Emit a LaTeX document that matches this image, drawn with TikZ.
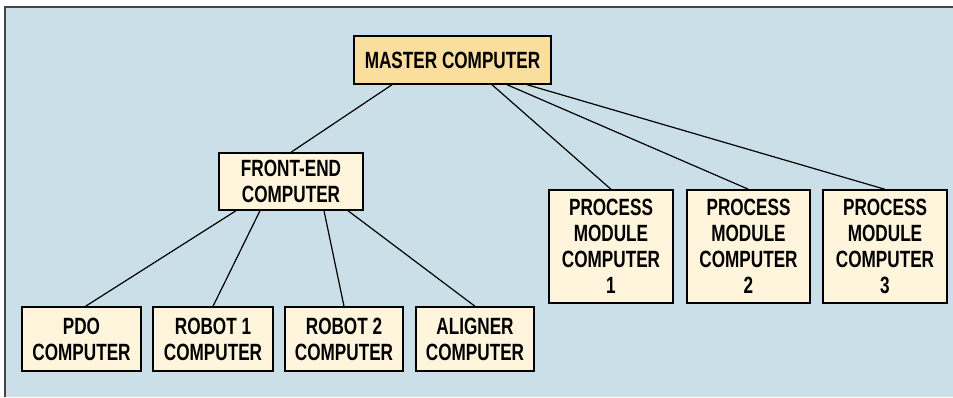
\documentclass[tikz,border=0pt]{standalone}
\usepackage{fontspec}
\setmainfont[FakeStretch=0.73]{Liberation Sans}
\definecolor{bgblue}{HTML}{CADFE8}
\definecolor{mastfill}{HTML}{FADE9E}
\definecolor{creamfill}{HTML}{FFF4DC}
\definecolor{framegray}{HTML}{454545}
\tikzset{
  box/.style={draw=black, line width=1.4pt, fill=creamfill, align=center, inner sep=0pt,
    font=\fontsize{23.5}{26}\selectfont\bfseries},
  link/.style={draw=black, line width=1.2pt}
}
\begin{document}
\begin{tikzpicture}[x=1pt,y=-1pt]
\useasboundingbox (0,0) rectangle (953,397);
\fill[bgblue] (5,7) rectangle (953,397);
\draw[framegray, line width=2.2pt] (5,397) -- (5,7) -- (953,7);

\node[box, fill=mastfill, minimum width=197pt, minimum height=48pt] (m) at (452.5,60) {MASTER COMPUTER};
\node[box, minimum width=144pt, minimum height=57pt] (fe) at (291,181.5) {FRONT-END\\COMPUTER};

\node[box, minimum width=119pt, minimum height=64pt] (pdo) at (81.5,339) {PDO\\COMPUTER};
\node[box, minimum width=120pt, minimum height=64pt] (r1) at (213,339) {ROBOT 1\\COMPUTER};
\node[box, minimum width=118pt, minimum height=64pt] (r2) at (344,339) {ROBOT 2\\COMPUTER};
\node[box, minimum width=118pt, minimum height=64pt] (al) at (475,339) {ALIGNER\\COMPUTER};

\node[box, minimum width=124pt, minimum height=113pt] (p1) at (611,246.5) {PROCESS\\MODULE\\COMPUTER\\1};
\node[box, minimum width=123pt, minimum height=113pt] (p2) at (748.5,246.5) {PROCESS\\MODULE\\COMPUTER\\2};
\node[box, minimum width=124pt, minimum height=113pt] (p3) at (885,246.5) {PROCESS\\MODULE\\COMPUTER\\3};

\draw[link] ([xshift=-60.5pt]m.south) -- (fe.north);
\draw[link] ([xshift=39.5pt]m.south) -- (p1.north);
\draw[link] ([xshift=54.5pt]m.south) -- (p2.north);
\draw[link] ([xshift=74.5pt]m.south) -- (p3.north);

\draw[link] ([xshift=-55pt]fe.south) -- ([xshift=4pt]pdo.north);
\draw[link] ([xshift=-31pt]fe.south) -- (r1.north);
\draw[link] ([xshift=33pt]fe.south) -- (r2.north);
\draw[link] ([xshift=57pt]fe.south) -- (al.north);
\end{tikzpicture}
\end{document}
